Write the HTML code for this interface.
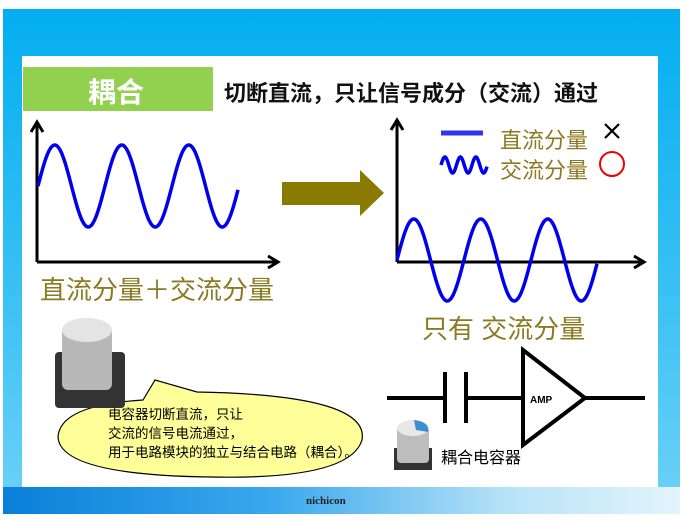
<!DOCTYPE html>
<html><head><meta charset="utf-8"><style>
html,body{margin:0;padding:0;width:682px;height:520px;background:#fff;overflow:hidden}
.t{position:absolute;font-family:"Liberation Sans","Noto Sans CJK SC",sans-serif;white-space:nowrap}
</style></head><body>
<div style="position:absolute;left:3px;top:9px;width:677px;height:505px;background:linear-gradient(#03aef0,#3ec2f4 60%,#6fd2f7)"></div>
<div style="position:absolute;left:3px;top:487px;width:677px;height:27px;background:linear-gradient(90deg,#0a7fd8,#3aa9ee 40%,#b9e3f7 75%,#e3f4fb)"></div>
<div style="position:absolute;left:22px;top:56px;width:636px;height:431px;background:#fff"></div>
<div style="position:absolute;left:23px;top:67px;width:190px;height:44px;background:#92d050"></div>
<div class="t" style="left:88px;top:71px;font-size:28px;font-weight:bold;color:#fff">耦合</div>
<div class="t" style="left:224px;top:76px;font-size:22px;font-weight:bold;color:#111">切断直流，只让信号成分（交流）通过</div>
<svg style="position:absolute;left:0;top:0" width="682" height="520">
<g stroke="#000" stroke-width="3" fill="none">
<path d="M37 262V124M31 132L37 122L43 132"/>
<path d="M37 262H277M268 256L278 262L268 268"/>
<path d="M397 262V120M391 130L397 120L403 130"/>
<path d="M397 262H643M634 256L644 262L634 268"/>
</g>
<path id="s1" fill="none" stroke="#0000ee" stroke-width="3.5" d=""/>
<path id="s2" fill="none" stroke="#0000ee" stroke-width="3.5" d=""/>
<path d="M282 182H360V170L384 193L360 216V205H282Z" fill="#8b7a00"/>
<path d="M441 133H483" stroke="#3333ee" stroke-width="5"/>
<path id="s3" fill="none" stroke="#0000ee" stroke-width="3.5" d=""/>
<path d="M605 124L619 138M619 124L605 138" stroke="#000" stroke-width="2.2"/>
<circle cx="612" cy="164" r="12" fill="none" stroke="#ee0000" stroke-width="2"/>
<g stroke="#000" stroke-width="4" fill="none">
<path d="M387 398H445M466 398H523M585 398H645"/>
<path d="M445 372V423M466 372V423"/>
<path d="M523 350V445L585 398Z"/>
</g>
<text x="530" y="403" font-family="Liberation Sans" font-size="10" font-weight="bold">AMP</text>
<path d="M143 400L155 380L197 392Q370 395 362 440Q350 480 210 477Q60 475 58 437Q60 405 143 400Z" fill="#ffff99" stroke="#000" stroke-width="1.2"/>
<rect x="55" y="352" width="70" height="56" rx="4" fill="#333"/>
<rect x="62" y="325" width="50" height="65" rx="6" fill="#b8b8b8"/>
<ellipse cx="87" cy="330" rx="25" ry="12" fill="#e4e4e4"/>
<rect x="394" y="448" width="38" height="22" fill="#333"/>
<rect x="397" y="425" width="32" height="38" rx="4" fill="#bdbdbd"/>
<ellipse cx="413" cy="428" rx="16" ry="8" fill="#e8e8e8"/>
<path d="M414 420Q430 422 428 432L416 430Z" fill="#3b8fd0"/>
</svg>
<div class="t" style="left:40px;top:270px;font-size:26px;color:#8b7a22">直流分量＋交流分量</div>
<div class="t" style="left:422px;top:309px;font-size:26px;color:#8b7a22">只有 交流分量</div>
<div class="t" style="left:500px;top:123px;font-size:22px;color:#8b7a22">直流分量</div>
<div class="t" style="left:500px;top:153px;font-size:22px;color:#8b7a22">交流分量</div>
<div class="t" style="left:108px;top:405px;font-size:13.5px;line-height:19px;color:#000">电容器切断直流，只让<br>交流的信号电流通过，<br>用于电路模块的独立与结合电路（耦合）。</div>
<div class="t" style="left:441px;top:444px;font-size:16px;color:#000">耦合电容器</div>
<div class="t" style="left:306px;top:495px;font-size:11px;font-weight:bold;color:#222;font-family:'Liberation Serif',serif">nichicon</div>
<script>
function sine(x0,x1,cy,a,p,step){var d='';for(var x=x0;x<=x1;x+=step){var y=cy-a*Math.sin((x-x0)/p*2*Math.PI);d+=(d?'L':'M')+x.toFixed(1)+' '+y.toFixed(1);}return d;}
document.getElementById('s1').setAttribute('d',sine(38,238,186,41,67,1));
document.getElementById('s2').setAttribute('d',sine(397,597,260,41,67,1));
document.getElementById('s3').setAttribute('d',sine(441,487,165,8,15.5,0.5));
</script>
</body></html>
